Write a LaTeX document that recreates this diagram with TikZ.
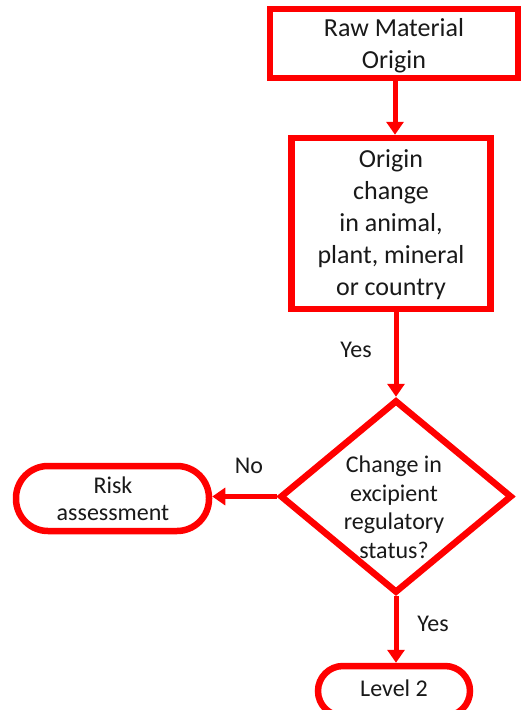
\documentclass[tikz,border=0pt]{standalone}
\usepackage{fontspec}
\setmainfont{Carlito}
\usetikzlibrary{arrows.meta,shapes.geometric,calc}
\begin{document}
\begin{tikzpicture}[x=1pt,y=-1pt,
  box/.style={draw=red, line width=6.5pt, fill=white, align=center, inner sep=0pt,
    font=\fontsize{26}{32}\selectfont, text=black!90},
  rbox/.style={draw=red, line width=6.5pt, fill=white, align=center, inner sep=0pt,
    font=\fontsize{24}{27}\selectfont, text=black!90},
  dia/.style={diamond, draw=red, line width=6.5pt, fill=white, inner sep=0pt},
  dtext/.style={align=center, inner sep=0pt, font=\fontsize{24}{28.5}\selectfont, text=black!90},
  arr/.style={draw=red, line width=5pt, -{Triangle[length=13pt,width=17pt]}},
  lbl/.style={inner sep=0pt, font=\fontsize{24}{28}\selectfont, text=black!90}]
\useasboundingbox (0,0) rectangle (523,710);
\clip (0,0) rectangle (523,710);

\node[box, minimum width=248pt, minimum height=69pt] (raw) at (394,43.5) {};
\node[box, inner sep=0pt, draw=none, fill=none] (rawt) at (394,45.5) {Raw Material\\Origin};

\node[box, minimum width=199pt, minimum height=171pt] (orig) at (391,223.5) {};
\node[box, draw=none, fill=none] (origt) at (391,225) {Origin\\change\\in animal,\\plant, mineral\\or country};

\node[dia, minimum width=232pt, minimum height=193pt] (d) at (396,496.5) {};
\node[dtext] (dt) at (394,507) {Change in\\excipient\\regulatory\\status?};

\node[rbox, minimum width=193pt, minimum height=65pt, rounded corners=32pt] (risk) at (112.5,498.5) {};
\node[rbox, draw=none, fill=none] (riskt) at (113,498.5) {Risk\\assessment};

\node[rbox, minimum width=152pt, minimum height=50pt, rounded corners=25pt] (lev) at (394,691) {};
\node[rbox, draw=none, fill=none] (levt) at (394,688) {Level 2};

\draw[arr] (raw.south -| 395,0) -- (orig.north -| 395,0);
\draw[arr] (orig.south -| d.north) -- (d.north);
\draw[arr] (d.west) -- (d.west -| risk.east);
\draw[arr] (d.south) -- (d.south |- lev.north);

\node[lbl] (yes1) at (356,350) {Yes};
\node[lbl] (no) at (249,466) {No};
\node[lbl] (yes2) at (433,624) {Yes};
\end{tikzpicture}
\end{document}
